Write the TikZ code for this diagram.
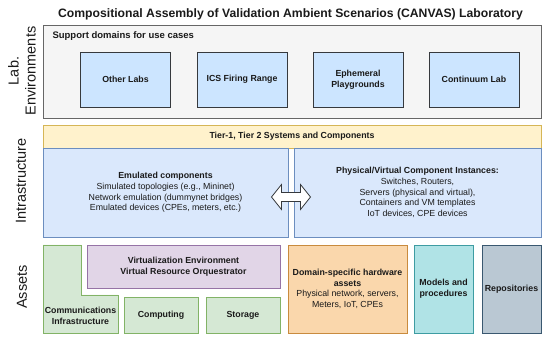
\documentclass[tikz,border=0pt]{standalone}
\usepackage{fontspec}
\setmainfont{Liberation Sans}
\usepackage{tikz}
\usetikzlibrary{calc}
\definecolor{cvink}{HTML}{1A1A1A}
\definecolor{cvgray}{HTML}{666666}
\definecolor{cvgrayfill}{HTML}{F5F5F5}
\definecolor{cvblue}{HTML}{36393D}
\definecolor{cvbluefill}{HTML}{CCE5FF}
\definecolor{cvyellow}{HTML}{D6B656}
\definecolor{cvyellowfill}{HTML}{FFF2CC}
\definecolor{cvsky}{HTML}{6C8EBF}
\definecolor{cvskyfill}{HTML}{DAE8FC}
\definecolor{cvgreen}{HTML}{82B366}
\definecolor{cvgreenfill}{HTML}{D5E8D4}
\definecolor{cvpurple}{HTML}{9673A6}
\definecolor{cvpurplefill}{HTML}{E1D5E7}
\definecolor{cvorange}{HTML}{C98B3E}
\definecolor{cvorangefill}{HTML}{FAD7AC}
\definecolor{cvteal}{HTML}{3E9CA2}
\definecolor{cvtealfill}{HTML}{B0E3E6}
\definecolor{cvslate}{HTML}{3A5870}
\definecolor{cvslatefill}{HTML}{BAC8D3}

\begin{document}
\begin{tikzpicture}[x=1pt,y=-1pt,line join=miter,
  font=\fontsize{8.8}{10.7}\selectfont,text=cvink,
  box/.style={draw=#1,fill=#1fill,line width=.8pt,align=center,inner sep=1pt},
  sz/.style 2 args={minimum width=#1,minimum height=#2},
  lbl/.style={font=\bfseries\fontsize{8.8}{10.7}\selectfont},
  side/.style={font=\fontsize{14.5}{17}\selectfont,rotate=90,align=center},
  dblarr/.style={draw=cvblue,fill=white,line width=.8pt}]
\useasboundingbox (0,0) rectangle (550,342);
\node[font=\bfseries\fontsize{12.2}{14}\selectfont] (title) at (290.5,14)
  {Compositional Assembly of Validation Ambient Scenarios (CANVAS) Laboratory};
\node[box=cvgray,sz={498}{93}] (lab) at (292,71.5) {};
\node[anchor=west,font=\bfseries\fontsize{9.5}{11}\selectfont] (supp) at (49,36) {Support domains for use cases};
\node[box=cvblue,sz={90}{55},lbl] (other) at (125.5,79.5) {Other Labs};
\node[box=cvblue,sz={90}{55},lbl] (ics) at (242,79.5) {ICS Firing Range};
\node[box=cvblue,sz={90}{55},lbl] (eph) at (358,79.5) {Ephemeral\\Playgrounds};
\node[box=cvblue,sz={90}{55},lbl] (cont) at (474,79.5) {Continuum Lab};
\node[box=cvyellow,sz={498}{23},lbl] (tier) at (292,136.5) {Tier-1, Tier 2 Systems and Components};
\node[box=cvsky,sz={245}{89}] (emu) at (165.5,192.5) {\textbf{Emulated components}\\Simulated topologies (e.g., Mininet)\\Network emulation (dummynet bridges)\\Emulated devices (CPEs, meters, etc.)};
\node[box=cvsky,sz={247}{89}] (phys) at (417.5,192.5) {\textbf{Physical/Virtual Component Instances:}\\Switches, Routers,\\Servers (physical and virtual),\\Containers and VM templates\\IoT devices, CPE devices};
\coordinate (mid) at ($(emu.east)!.5!(phys.west)+(0,4.5)$);
\draw[dblarr] ($(mid)+(-19.5,0)$) -- ++(10,-12.5) -- ++(0,8) -- ++(19,0) -- ++(0,-8) -- ++(10,12.5)
  -- ++(-10,12.5) -- ++(0,-8) -- ++(-19,0) -- ++(0,8) -- cycle;
\draw[box=cvgreen] (43,245) -- (81,245) -- (81,295) -- (118,295) -- (118,333) -- (43,333) -- cycle;
\node[lbl,align=center] (comm) at (80.5,316) {Communications\\Infrastructure};
\node[box=cvpurple,sz={193}{43},lbl] (virt) at (183.5,266.5) {Virtualization Environment\\Virtual Resource Orquestrator};
\node[box=cvgreen,sz={74}{36},lbl] (comp) at (161,315) {Computing};
\node[box=cvgreen,sz={74}{36},lbl] (stor) at (243,315) {Storage};
\node[box=cvorange,sz={119}{88}] (dom) at (347.5,289) {\textbf{Domain-specific hardware}\\\textbf{assets}\\Physical network, servers,\\Meters, IoT, CPEs};
\node[box=cvteal,sz={59}{88},lbl] (mod) at (443.5,289) {Models and\\procedures};
\node[box=cvslate,sz={59}{88},lbl] (repo) at (511.5,289) {Repositories};
\node[side] (llab) at (22,71) {Lab.\\Environments};
\node[side] (linfra) at (21,181) {Intrastructure};
\node[side] (lassets) at (22,287) {Assets};
\end{tikzpicture}
\end{document}
